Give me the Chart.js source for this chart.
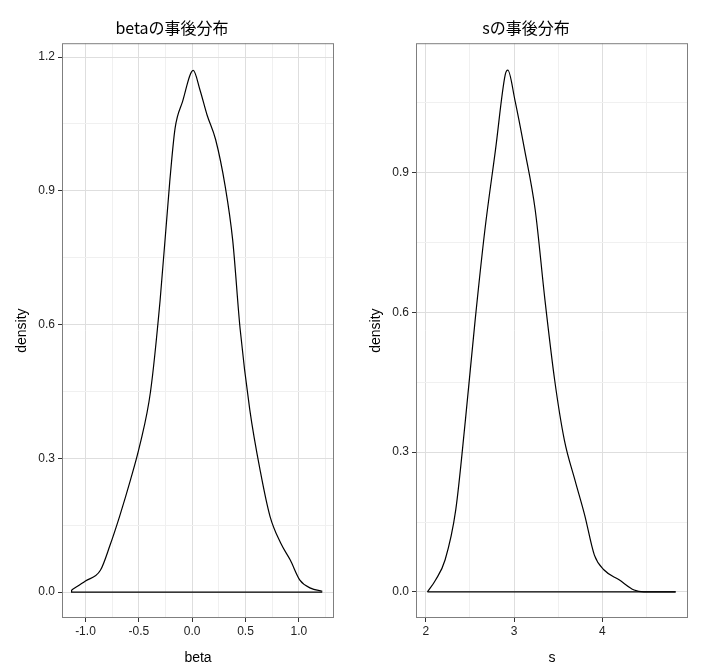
<!DOCTYPE html>
<html><head><meta charset="utf-8">
<script src="https://cdn.jsdelivr.net/npm/chart.js@4/dist/chart.umd.min.js"></script>
<style>
body{margin:0;background:#fff;}
.p{position:absolute;top:0;width:354px;height:671px;}
</style></head>
<body>
<div class="p" style="left:0"><canvas id="c1"></canvas></div>
<div class="p" style="left:354px"><canvas id="c2"></canvas></div>
<script>
// beta density outline
const betaX = [-1.13,-1.0,-0.86,-0.77,-0.68,-0.58,-0.49,-0.39,-0.30,-0.21,-0.16,-0.09,0.01,0.075,0.14,0.22,0.31,0.38,0.45,0.54,0.64,0.73,0.83,0.92,1.01,1.11,1.22];
const betaY = [0.005,0.025,0.049,0.105,0.17,0.25,0.33,0.45,0.655,0.92,1.04,1.10,1.17,1.125,1.07,1.015,0.91,0.79,0.59,0.41,0.27,0.17,0.11,0.072,0.027,0.009,0.002];
// s density outline
const sX = [2.02,2.11,2.22,2.34,2.45,2.56,2.67,2.79,2.90,2.93,3.01,3.12,3.24,3.35,3.46,3.57,3.69,3.80,3.91,4.02,4.19,4.36,4.47,4.83];
const sY = [0.0,0.025,0.069,0.176,0.37,0.584,0.777,0.949,1.11,1.12,1.056,0.949,0.82,0.627,0.455,0.326,0.24,0.165,0.079,0.047,0.026,0.004,0,0];
const betaTicks = [-1.0,-0.5,0.0,0.5,1.0];
const sTicks = [2,3,4];
const densTicks = [0.0,0.3,0.6,0.9,1.2];

const font = {family:'Liberation Sans, Arial, sans-serif', size:12};
const near = (v,arr)=>arr.some(t=>Math.abs(t-v)<1e-6);

const border = {id:'border', afterDraw(ch){
  const a=ch.chartArea, c=ch.ctx;
  c.save(); c.strokeStyle='#7f7f7f'; c.lineWidth=1;
  c.strokeRect(a.left+0.5,a.top+0.5,a.right-a.left-1,a.bottom-a.top-1); c.restore();
}};

function make(id, xs, ys, xr, xstep, xLabels, yr, title, xTitle, xfmt){
  const cv=document.getElementById(id);
  cv.width=354; cv.height=671;
  const pts = xs.map((x,i)=>({x:x,y:ys[i]}));
  const base = [{x:xs[xs.length-1],y:0},{x:xs[0],y:0},{x:xs[0],y:ys[0]}];
  new Chart(cv,{
    type:'scatter',
    data:{datasets:[
      {data:pts,showLine:true,borderColor:'#000',borderWidth:1.2,pointRadius:0,fill:false,tension:0.35,cubicInterpolationMode:'monotone'},
      {data:base,showLine:true,borderColor:'#000',borderWidth:1.2,pointRadius:0,fill:false}]},
    plugins:[border],
    options:{
      responsive:false, animation:false, devicePixelRatio:1,
      layout:{padding:{left:10,right:20,top:0,bottom:0}},
      plugins:{legend:{display:false},tooltip:{enabled:false},
        title:{display:true,text:title,color:'#000',font:{family:'Noto Sans CJK JP',size:16,weight:'normal'},padding:{top:18,bottom:6}}},
      scales:{
        x:{type:'linear',min:xr[0],max:xr[1],
          afterBuildTicks:s=>{const t=[];for(let v=Math.ceil(xr[0]/xstep)*xstep;v<=xr[1]+1e-9;v+=xstep)t.push({value:+v.toFixed(4)});s.ticks=t;},
          afterFit:s=>{s.height=53;},
          grid:{color:c=>near(c.tick.value,xLabels)?'#dedede':'#f0f0f0',drawTicks:true,tickLength:4,tickColor:c=>near(c.tick.value,xLabels)?'#333':'rgba(0,0,0,0)'},
          border:{display:false},
          ticks:{color:'#222',font:font,maxRotation:0,autoSkip:false,padding:2,
            callback:v=>near(v,xLabels)?xfmt(v):''},
          title:{display:true,text:xTitle,color:'#000',font:{family:font.family,size:14},padding:{top:0}}},
        y:{type:'linear',min:yr[0],max:yr[1],
          afterBuildTicks:s=>{const t=[];for(let v=0;v<=yr[1]+1e-9;v+=0.15)t.push({value:+v.toFixed(4)});s.ticks=t;},
          afterFit:s=>{s.width=52;},
          grid:{color:c=>near(c.tick.value,densTicks)?'#dedede':'#f0f0f0',tickLength:4,tickColor:c=>near(c.tick.value,densTicks)?'#333':'rgba(0,0,0,0)'},
          border:{display:false},
          ticks:{color:'#222',font:font,autoSkip:false,padding:3,
            callback:v=>near(v,densTicks)?v.toFixed(1):''},
          title:{display:true,text:'density',color:'#000',font:{family:font.family,size:14},padding:{bottom:0}}}
      }
    }
  });
}
make('c1',betaX,betaY,[-1.22,1.33],0.25,betaTicks,[-0.058,1.231],'betaの事後分布','beta',v=>v.toFixed(1));
make('c2',sX,sY,[1.89,4.97],0.5,sTicks,[-0.056,1.178],'sの事後分布','s',v=>String(v));
</script>
</body></html>
